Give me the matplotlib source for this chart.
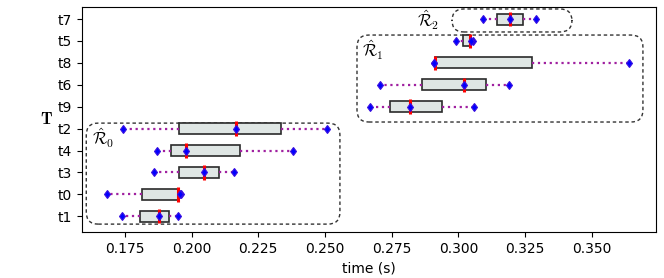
import matplotlib
matplotlib.use("Agg")
import matplotlib.pyplot as plt
from matplotlib.patches import FancyBboxPatch

plt.rcParams["mathtext.fontset"] = "cm"

labels = ["t1", "t0", "t3", "t4", "t2", "t9", "t6", "t8", "t5", "t7"]
whisk_lo = [0.1738, 0.1684, 0.1858, 0.1869, 0.1741, 0.2669, 0.2705, 0.2910, 0.2992, 0.3091]
q1 = [0.1807, 0.1815, 0.1951, 0.1924, 0.1954, 0.2744, 0.2862, 0.2913, 0.3018, 0.3144]
med = [0.1879, 0.1948, 0.2046, 0.1979, 0.2166, 0.2820, 0.3021, 0.2914, 0.3044, 0.3194]
q3 = [0.1915, 0.1954, 0.2104, 0.2182, 0.2336, 0.2940, 0.3105, 0.3277, 0.3044, 0.3241]
whisk_hi = [0.1950, 0.1961, 0.2160, 0.2381, 0.2506, 0.3059, 0.3191, 0.3641, 0.3054, 0.3290]
means = [0.1879, 0.1955, 0.2046, 0.1979, 0.2166, 0.2820, 0.3021, 0.2910, 0.3047, 0.3194]

fig = plt.figure(figsize=(6.64, 2.78), dpi=100)
ax = fig.add_axes([82/664, 1 - 232/278, (656-82)/664, (232-7)/278])

stats = []
for i in range(len(labels)):
    stats.append(dict(label=labels[i], whislo=whisk_lo[i], q1=q1[i], med=med[i],
                      q3=q3[i], whishi=whisk_hi[i], fliers=[]))
pos = list(range(1, len(labels) + 1))
bp = ax.bxp(stats, positions=pos, vert=False, widths=0.5, showcaps=False,
            patch_artist=True, showfliers=False,
            boxprops=dict(facecolor="#dfe6e4", edgecolor="#2a2a2a", linewidth=1.2),
            whiskerprops=dict(color="#a020a0", linestyle=":", linewidth=1.6),
            medianprops=dict(color="red", linewidth=2.2, zorder=4))
for line, p in zip(bp["medians"], pos):
    line.set_ydata([p - 0.33, p + 0.33])

for i, p in enumerate(pos):
    ax.plot([whisk_lo[i], whisk_hi[i], means[i]], [p, p, p], linestyle="none",
            marker="d", markersize=4.5, color="blue", markeredgecolor="#3a10e0",
            markeredgewidth=0.8, zorder=5)

ax.set_xlim(0.1589, 0.3741)
ax.set_ylim(0.28, 10.55)
ax.set_xticks([0.175, 0.200, 0.225, 0.250, 0.275, 0.300, 0.325, 0.350])
ax.set_xticklabels(["0.175", "0.200", "0.225", "0.250", "0.275", "0.300", "0.325", "0.350"])
ax.set_yticks(pos)
ax.set_yticklabels(labels)
ax.set_xlabel("time (s)")
ax.set_ylabel(r"$\mathbf{T}$", rotation=0, fontsize=12, labelpad=8, va="center")

aspect = (1/21.9) / (1/2667.0)
regions = [
    (0.1605, 0.64, 0.2556, 5.25),
    (0.2620, 5.30, 0.3692, 9.27),
    (0.2976, 9.41, 0.3426, 10.46),
]
for (x0, y0, x1, y1) in regions:
    r = FancyBboxPatch((x0, y0), x1 - x0, y1 - y0,
                       boxstyle="round,pad=0,rounding_size=0.0045",
                       mutation_aspect=aspect, fill=False,
                       edgecolor="#333333", linestyle=(0, (2.5, 2)), linewidth=1.0,
                       zorder=1)
    ax.add_patch(r)

ax.text(0.1625, 4.55, r"$\hat{\mathcal{R}}_0$", fontsize=12, va="center", ha="left")
ax.text(0.2640, 8.60, r"$\hat{\mathcal{R}}_1$", fontsize=12, va="center", ha="left")
ax.text(0.2845, 9.95, r"$\hat{\mathcal{R}}_2$", fontsize=12, va="center", ha="left")

fig.savefig("out.png", dpi=100)
